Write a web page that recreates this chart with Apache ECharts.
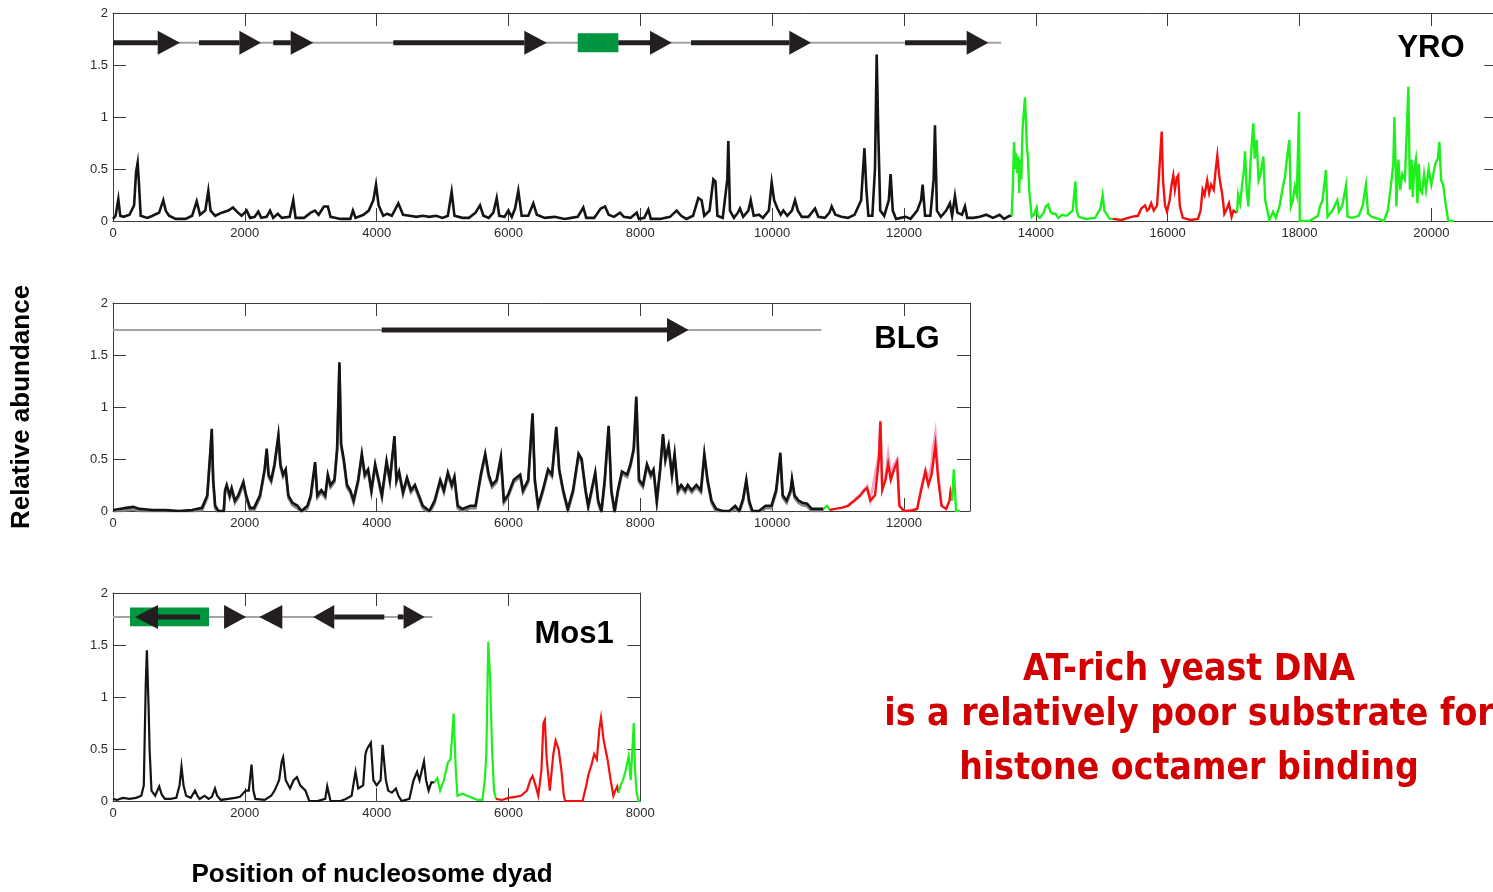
<!DOCTYPE html>
<html><head><meta charset="utf-8">
<script src="https://cdn.jsdelivr.net/npm/echarts@6/dist/echarts.min.js"></script>
<style>html,body{margin:0;padding:0;background:#fff;}#c{width:1493px;height:892px;}</style>
</head><body><div id="c"></div>
<script>
// ---------------- DATA ----------------
const panelNames = ['YRO', 'BLG', 'Mos1'];
const xMaxes = [21000, 13000, 8000];
const xTickStep = 2000;
const yTicks = [0, 0.5, 1, 1.5, 2];

// YRO
const yroBlack = [[0,0.02],[40,0.05],[81,0.21],[110,0.05],[160,0.04],[250,0.06],[320,0.15],[350,0.47],[374,0.56],[395,0.35],[420,0.05],[520,0.03],[600,0.05],[700,0.08],[763,0.2],[800,0.1],[850,0.05],[950,0.02],[1100,0.02],[1200,0.05],[1270,0.19],[1320,0.06],[1400,0.1],[1446,0.29],[1480,0.1],[1550,0.05],[1650,0.08],[1750,0.1],[1820,0.13],[1880,0.09],[1950,0.05],[2028,0.1],[2080,0.03],[2150,0.04],[2204,0.09],[2250,0.03],[2330,0.04],[2382,0.1],[2430,0.03],[2500,0.07],[2560,0.03],[2680,0.04],[2735,0.2],[2770,0.03],[2900,0.03],[3000,0.08],[3064,0.1],[3120,0.06],[3200,0.14],[3260,0.14],[3300,0.04],[3450,0.02],[3600,0.02],[3640,0.1],[3680,0.03],[3800,0.06],[3880,0.1],[3950,0.2],[3990,0.35],[4030,0.15],[4100,0.05],[4160,0.07],[4230,0.05],[4329,0.17],[4400,0.06],[4500,0.05],[4600,0.04],[4700,0.05],[4800,0.04],[4900,0.05],[5000,0.03],[5080,0.05],[5138,0.28],[5180,0.05],[5300,0.03],[5400,0.03],[5500,0.08],[5568,0.15],[5620,0.05],[5700,0.03],[5770,0.08],[5821,0.22],[5860,0.05],[5940,0.04],[5998,0.1],[6050,0.04],[6100,0.12],[6149,0.29],[6200,0.05],[6300,0.05],[6377,0.17],[6430,0.06],[6550,0.03],[6700,0.04],[6850,0.02],[6950,0.03],[7050,0.04],[7135,0.13],[7180,0.03],[7300,0.03],[7400,0.12],[7465,0.14],[7520,0.06],[7600,0.04],[7692,0.08],[7750,0.04],[7850,0.03],[7945,0.08],[7980,0.02],[8060,0.03],[8121,0.11],[8160,0.02],[8300,0.02],[8450,0.04],[8551,0.1],[8620,0.05],[8700,0.02],[8800,0.05],[8880,0.22],[8930,0.2],[8970,0.05],[9050,0.1],[9108,0.4],[9140,0.38],[9170,0.05],[9250,0.03],[9320,0.4],[9335,0.77],[9360,0.1],[9420,0.03],[9480,0.08],[9512,0.12],[9560,0.04],[9640,0.1],[9675,0.2],[9720,0.05],[9800,0.06],[9860,0.03],[9950,0.1],[9993,0.37],[10030,0.2],[10080,0.12],[10130,0.06],[10170,0.1],[10230,0.05],[10300,0.1],[10347,0.2],[10390,0.1],[10450,0.04],[10550,0.04],[10650,0.12],[10700,0.04],[10800,0.03],[10870,0.08],[10903,0.14],[10960,0.06],[11050,0.04],[11150,0.03],[11250,0.06],[11350,0.2],[11400,0.7],[11430,0.3],[11460,0.05],[11520,0.05],[11560,0.5],[11586,1.6],[11610,0.85],[11640,0.1],[11700,0.05],[11770,0.2],[11797,0.45],[11830,0.1],[11880,0.02],[11950,0.03],[12030,0.04],[12100,0.02],[12200,0.1],[12260,0.2],[12283,0.35],[12320,0.05],[12400,0.05],[12450,0.4],[12470,0.92],[12500,0.1],[12560,0.04],[12640,0.1],[12697,0.17],[12730,0.05],[12773,0.24],[12810,0.08],[12880,0.06],[12925,0.14],[12960,0.03],[13050,0.03],[13150,0.04],[13250,0.06],[13350,0.03],[13450,0.06],[13520,0.02],[13600,0.05],[13634,0.05]];
const yroGreenA = [[13634,0.05],[13650,0.3],[13670,0.76],[13690,0.5],[13705,0.65],[13720,0.46],[13735,0.62],[13748,0.27],[13762,0.59],[13780,0.4],[13800,0.9],[13836,1.19],[13850,0.97],[13865,0.7],[13880,0.62],[13900,0.3],[13937,0.04],[13970,0.06],[14013,0.13],[14030,0.05],[14060,0.03],[14120,0.08],[14150,0.14],[14190,0.16],[14220,0.09],[14260,0.07],[14300,0.07],[14340,0.03],[14400,0.06],[14470,0.05],[14560,0.1],[14600,0.38],[14620,0.1],[14650,0.04],[14760,0.02],[14900,0.03],[14980,0.12],[15014,0.25],[15040,0.1],[15070,0.07],[15120,0.02],[15166,0.02]];
const yroRed = [[15166,0.02],[15300,0.01],[15450,0.04],[15550,0.05],[15600,0.12],[15657,0.15],[15690,0.1],[15720,0.12],[15750,0.17],[15790,0.1],[15840,0.15],[15870,0.45],[15910,0.86],[15930,0.39],[15960,0.15],[15990,0.09],[16030,0.2],[16060,0.35],[16086,0.44],[16110,0.3],[16140,0.42],[16160,0.44],[16185,0.14],[16230,0.03],[16350,0.01],[16460,0.02],[16500,0.1],[16530,0.3],[16560,0.25],[16600,0.39],[16630,0.27],[16660,0.35],[16700,0.3],[16730,0.5],[16754,0.63],[16780,0.45],[16800,0.36],[16830,0.25],[16860,0.07],[16900,0.12],[16930,0.17],[16970,0.04],[17000,0.1],[17052,0.08]];
const yroGreenB = [[17052,0.08],[17070,0.25],[17100,0.17],[17130,0.35],[17160,0.5],[17174,0.67],[17200,0.3],[17225,0.14],[17260,0.6],[17300,0.94],[17320,0.6],[17350,0.78],[17380,0.39],[17410,0.45],[17452,0.62],[17480,0.2],[17543,0.01],[17600,0.09],[17640,0.03],[17700,0.15],[17740,0.3],[17781,0.43],[17810,0.6],[17846,0.78],[17870,0.14],[17900,0.2],[17930,0.33],[17960,0.25],[17993,1.05],[18005,0.0],[18150,0.0],[18280,0.05],[18311,0.14],[18350,0.2],[18402,0.49],[18425,0.04],[18500,0.1],[18574,0.2],[18600,0.09],[18650,0.15],[18706,0.34],[18730,0.04],[18800,0.03],[18900,0.05],[18960,0.15],[19009,0.35],[19040,0.07],[19100,0.04],[19200,0.02],[19280,0.0],[19340,0.1],[19380,0.3],[19424,0.55],[19440,1.0],[19460,0.5],[19470,0.14],[19500,0.59],[19530,0.3],[19560,0.45],[19600,0.4],[19630,0.9],[19652,1.29],[19675,0.3],[19700,0.59],[19720,0.23],[19740,0.5],[19765,0.59],[19790,0.17],[19810,0.55],[19830,0.3],[19860,0.27],[19890,0.45],[19920,0.3],[19960,0.5],[20000,0.35],[20060,0.55],[20100,0.6],[20122,0.76],[20150,0.39],[20180,0.35],[20210,0.2],[20257,0.0],[20350,0.0]];

// BLG
const blgBlack = [[0,0.01],[100,0.02],[200,0.03],[309,0.04],[400,0.02],[600,0.01],[800,0.01],[1000,0.0],[1200,0.01],[1350,0.03],[1430,0.15],[1480,0.6],[1498,0.79],[1520,0.3],[1550,0.05],[1600,0.0],[1680,0.0],[1700,0.2],[1725,0.25],[1770,0.15],[1800,0.22],[1850,0.1],[1900,0.15],[1978,0.28],[2020,0.15],[2080,0.03],[2140,0.03],[2230,0.15],[2300,0.4],[2332,0.6],[2360,0.35],[2400,0.3],[2450,0.45],[2509,0.73],[2540,0.45],[2580,0.35],[2620,0.4],[2660,0.15],[2720,0.08],[2800,0.05],[2860,0.0],[2950,0.05],[3000,0.15],[3066,0.47],[3100,0.15],[3160,0.2],[3220,0.15],[3259,0.35],[3300,0.25],[3360,0.3],[3400,0.6],[3435,1.43],[3460,0.65],[3500,0.5],[3550,0.25],[3600,0.2],[3650,0.1],[3720,0.3],[3775,0.55],[3820,0.35],[3870,0.4],[3920,0.2],[3977,0.45],[4030,0.3],[4080,0.15],[4150,0.48],[4200,0.3],[4270,0.72],[4300,0.3],[4340,0.38],[4400,0.18],[4460,0.32],[4520,0.2],[4580,0.25],[4640,0.15],[4700,0.05],[4800,0.0],[4880,0.1],[4964,0.3],[5020,0.2],[5080,0.37],[5140,0.25],[5180,0.33],[5230,0.05],[5300,0.02],[5420,0.05],[5500,0.05],[5580,0.35],[5647,0.55],[5700,0.35],[5750,0.25],[5820,0.3],[5885,0.52],[5930,0.1],[5990,0.15],[6080,0.3],[6178,0.35],[6220,0.2],[6300,0.3],[6365,0.94],[6400,0.3],[6450,0.05],[6520,0.2],[6600,0.4],[6660,0.35],[6725,0.81],[6770,0.4],[6830,0.2],[6900,0.02],[6980,0.2],[7063,0.55],[7110,0.5],[7170,0.2],[7210,0.05],[7260,0.2],[7316,0.37],[7360,0.1],[7410,0.0],[7460,0.3],[7519,0.82],[7560,0.2],[7610,0.0],[7660,0.2],[7721,0.38],[7800,0.35],[7850,0.45],[7900,0.6],[7939,1.1],[7980,0.3],[8040,0.25],[8101,0.45],[8160,0.35],[8200,0.4],[8250,0.1],[8300,0.4],[8344,0.74],[8380,0.5],[8429,0.63],[8480,0.35],[8520,0.55],[8570,0.2],[8620,0.25],[8680,0.2],[8720,0.25],[8780,0.2],[8850,0.25],[8920,0.2],[8971,0.55],[9020,0.3],[9080,0.1],[9150,0.02],[9250,0.0],[9350,0.0],[9440,0.05],[9500,0.0],[9560,0.12],[9608,0.3],[9650,0.1],[9700,0.0],[9800,0.0],[9900,0.05],[9990,0.05],[10060,0.2],[10124,0.56],[10160,0.15],[10220,0.1],[10280,0.2],[10301,0.31],[10340,0.15],[10400,0.1],[10460,0.08],[10530,0.07],[10600,0.02],[10700,0.02],[10780,0.02]];
const blgGreenA = [[10780,0.02],[10833,0.05],[10870,0.01]];
const blgPink = [[11150,0.05],[11339,0.16],[11440,0.24],[11490,0.1],[11620,0.55],[11642,0.87],[11670,0.25],[11720,0.32],[11760,0.55],[11800,0.35],[11850,0.45],[11896,0.5],[11930,0.05],[12000,0.0],[12200,0.02],[12260,0.22],[12325,0.4],[12370,0.3],[12420,0.45],[12440,0.6],[12477,0.75],[12520,0.35],[12570,0.05]];
const blgRed = [[10870,0.01],[10950,0.02],[11050,0.03],[11150,0.05],[11250,0.1],[11339,0.15],[11400,0.2],[11440,0.22],[11490,0.1],[11560,0.15],[11620,0.5],[11642,0.86],[11670,0.2],[11720,0.3],[11760,0.45],[11800,0.3],[11850,0.4],[11896,0.47],[11930,0.05],[12000,0.0],[12100,0.0],[12200,0.02],[12260,0.2],[12325,0.38],[12370,0.25],[12420,0.35],[12477,0.63],[12520,0.3],[12570,0.05],[12640,0.02],[12690,0.1],[12705,0.18],[12730,0.1]];
const blgGreenB = [[12730,0.1],[12756,0.4],[12790,0.0],[12850,0.0]];

// Mos1
const mosBlack = [[0,0.02],[60,0.01],[150,0.03],[250,0.02],[350,0.03],[430,0.05],[467,0.15],[496,1.1],[514,1.45],[540,0.9],[555,0.5],[584,0.1],[640,0.05],[701,0.14],[740,0.06],[788,0.02],[870,0.02],[960,0.03],[1010,0.15],[1039,0.33],[1070,0.15],[1109,0.05],[1180,0.03],[1244,0.1],[1280,0.05],[1314,0.02],[1390,0.05],[1450,0.02],[1500,0.04],[1547,0.12],[1580,0.05],[1635,0.01],[1750,0.02],[1850,0.03],[1927,0.04],[2014,0.1],[2060,0.1],[2102,0.35],[2130,0.1],[2160,0.02],[2300,0.01],[2400,0.05],[2452,0.1],[2520,0.2],[2560,0.38],[2581,0.42],[2620,0.2],[2686,0.12],[2740,0.2],[2791,0.23],[2840,0.15],[2920,0.1],[2978,0.0],[3100,0.0],[3220,0.02],[3250,0.14],[3270,0.14],[3300,0.0],[3450,0.0],[3532,0.02],[3620,0.05],[3679,0.28],[3720,0.12],[3795,0.15],[3830,0.45],[3854,0.5],[3912,0.56],[3950,0.2],[4000,0.15],[4060,0.2],[4090,0.54],[4116,0.55],[4140,0.2],[4175,0.1],[4230,0.08],[4292,0.12],[4330,0.05],[4379,0.0],[4496,0.02],[4560,0.2],[4613,0.28],[4650,0.2],[4718,0.38],[4750,0.2],[4788,0.1],[4830,0.18],[4876,0.18]];
const mosGreenA = [[4876,0.18],[4920,0.22],[4963,0.1],[5020,0.2],[5080,0.37],[5120,0.4],[5168,0.84],[5200,0.3],[5226,0.05],[5300,0.07],[5372,0.05],[5450,0.03],[5530,0.01],[5605,0.01],[5640,0.2],[5664,0.45],[5693,1.53],[5720,1.2],[5751,0.5],[5780,0.1],[5810,0.02]];
const mosRed = [[5810,0.02],[5900,0.01],[6000,0.03],[6100,0.04],[6189,0.05],[6280,0.1],[6330,0.2],[6365,0.24],[6410,0.15],[6452,0.05],[6500,0.3],[6530,0.75],[6551,0.78],[6580,0.4],[6627,0.1],[6680,0.45],[6715,0.58],[6760,0.5],[6802,0.3],[6840,0.05],[6861,0.0],[7000,0.0],[7124,0.0],[7180,0.15],[7211,0.25],[7260,0.35],[7300,0.45],[7340,0.4],[7380,0.7],[7404,0.8],[7440,0.6],[7470,0.5],[7503,0.4],[7550,0.2],[7591,0.05],[7620,0.1],[7649,0.14],[7670,0.08]];
const mosGreenB = [[7670,0.08],[7700,0.15],[7737,0.2],[7780,0.3],[7824,0.43],[7854,0.2],[7880,0.5],[7900,0.75],[7920,0.3],[7941,0.1],[7970,0.0],[8000,0.0]];

// Gene maps: track extent, ORF arrows [lineStart, headBase, tip], green boxes [start, end]
const yroTrack = [0, 13477];
const yroArrows = [[0,678,1016],[1305,1917,2245],[2432,2696,3039],[4253,6240,6580],[7667,8147,8476],[8769,10260,10589],[12016,12951,13280]];
const yroBoxes = [[7050,7667]];
const blgTrack = [0, 10747];
const blgArrows = [[4077,8405,8733]];
const blgBoxes = [];
const mosTrack = [0, 4846];
const mosArrows = [[1320,683,334],[1685,1685,2019],[2569,2569,2219],[4116,3357,3036],[4321,4408,4730]];
const mosBoxes = [[258,1457]];

const yAxisTitle = 'Relative abundance';
const xAxisTitle = 'Position of nucleosome dyad';
const noteLines = ['AT-rich yeast DNA', 'is a relatively poor substrate for', 'histone octamer binding'];

// ---------------- LAYOUT / STYLE ----------------
const pxPerUnit = 0.065915;
const grids = [0,1,2].map(i => ({left:113, top:[13,303,593][i], width: xMaxes[i]*pxPerUnit, height:208, outerBoundsMode:'none', containLabel:false}));
const trackY = [1.714, 1.74, 1.77];
const boxY = [[1.622,1.805],[0,0],[1.68,1.86]];
const C_BLACK = '#141414', C_ARROW = '#231f20', C_TRACK = '#a3a3a3', C_GREEN = '#1df01d', C_RED = '#f21010', C_BOX = '#00963f';
const AX = '#3c3c3c';
const LF = "'Liberation Sans', Arial, sans-serif";

const xAxes = [], yAxes = [];
grids.forEach((g, i) => {
  xAxes.push({gridIndex:i, type:'value', position:'bottom', min:0, max:xMaxes[i], interval:xTickStep,
    axisLine:{show:true, onZero:false, lineStyle:{color:AX, width:1}},
    axisTick:{show:true, inside:true, length:13, lineStyle:{color:AX}},
    axisLabel:{show:true, margin:6, fontSize:13, fontFamily:LF, color:'#2a2a2a', formatter: v => (v % xTickStep === 0 ? String(v) : '')},
    splitLine:{show:false}});
  xAxes.push({gridIndex:i, type:'value', position:'top', min:0, max:xMaxes[i], interval:xTickStep,
    axisLine:{show:true, onZero:false, lineStyle:{color:AX, width:1}},
    axisTick:{show:true, inside:true, length:13, lineStyle:{color:AX}},
    axisLabel:{show:false}, splitLine:{show:false}});
  yAxes.push({gridIndex:i, type:'value', position:'left', min:yTicks[0], max:yTicks[yTicks.length-1], interval:yTicks[1]-yTicks[0],
    axisLine:{show:true, onZero:false, lineStyle:{color:AX, width:1}},
    axisTick:{show:true, inside:true, length:13, lineStyle:{color:AX}},
    axisLabel:{show:true, margin:5, fontSize:13, fontFamily:LF, color:'#2a2a2a'},
    splitLine:{show:false}});
  yAxes.push({gridIndex:i, type:'value', position:'right', min:yTicks[0], max:yTicks[yTicks.length-1], interval:yTicks[1]-yTicks[0],
    axisLine:{show:true, onZero:false, lineStyle:{color:AX, width:1}},
    axisTick:{show:true, inside:true, length:13, lineStyle:{color:AX}},
    axisLabel:{show:false}, splitLine:{show:false}});
});

const series = [];
function trace(i, data, color, width, z, extra) {
  series.push({type:'line', xAxisIndex:2*i, yAxisIndex:2*i, data, showSymbol:false, symbol:'none',
    lineStyle:Object.assign({color, width, join:'miter'}, extra || {}), z: z || 3, silent:true, animation:false});
}
function track(i, ext) {
  series.push({type:'line', xAxisIndex:2*i, yAxisIndex:2*i, data: ext.map(x => [x, trackY[i]]), symbol:'none',
    lineStyle:{color:C_TRACK, width:2}, z:5, silent:true, animation:false});
}
function boxes(i, list) {
  if (!list.length) return;
  series.push({type:'custom', xAxisIndex:2*i, yAxisIndex:2*i, data:list, z:6, silent:true, animation:false,
    renderItem: (params, api) => {
      const a = api.coord([api.value(0), boxY[i][1]]);
      const b = api.coord([api.value(1), boxY[i][0]]);
      return {type:'rect', shape:{x:a[0], y:a[1], width:b[0]-a[0], height:b[1]-a[1]}, style:{fill:C_BOX}};
    }});
}
function arrows(i, list) {
  series.push({type:'custom', xAxisIndex:2*i, yAxisIndex:2*i, data:list, z:7, silent:true, animation:false,
    renderItem: (params, api) => {
      const s = api.coord([api.value(0), trackY[i]]);
      const b = api.coord([api.value(1), trackY[i]]);
      const t = api.coord([api.value(2), trackY[i]]);
      const h = 12;
      const children = [];
      if (Math.abs(b[0]-s[0]) > 0.5) children.push({type:'line', shape:{x1:s[0], y1:s[1], x2:b[0], y2:b[1]}, style:{stroke:C_ARROW, lineWidth:5}});
      children.push({type:'polygon', shape:{points:[[b[0], b[1]-h],[b[0], b[1]+h],[t[0], t[1]]]}, style:{fill:C_ARROW}});
      return {type:'group', children};
    }});
}

// YRO
trace(0, yroBlack, C_BLACK, 2.6); trace(0, yroGreenA, C_GREEN, 2.4); trace(0, yroRed, C_RED, 2.4); trace(0, yroGreenB, C_GREEN, 2.4);
track(0, yroTrack); boxes(0, yroBoxes); arrows(0, yroArrows);
// BLG (black trace carries a grey replicate shadow)
trace(1, blgBlack, C_BLACK, 2.6, 3, {shadowColor:'rgba(120,120,120,0.9)', shadowBlur:0, shadowOffsetY:2.5, shadowOffsetX:0});
trace(1, blgGreenA, C_GREEN, 2.2);
trace(1, blgPink, '#f7a1c6', 2.6, 2); trace(1, blgRed, C_RED, 2.4); trace(1, blgGreenB, C_GREEN, 2.4);
track(1, blgTrack); boxes(1, blgBoxes); arrows(1, blgArrows);
// Mos1
trace(2, mosBlack, C_BLACK, 2.2); trace(2, mosGreenA, C_GREEN, 2.2); trace(2, mosRed, C_RED, 2.2); trace(2, mosGreenB, C_GREEN, 2.2);
track(2, mosTrack); boxes(2, mosBoxes); arrows(2, mosArrows);

// Fit the note font to the reference line width
const NOTE_FAMILY = "'DejaVu Sans Condensed', 'DejaVu Sans', sans-serif";
const ctx = document.createElement('canvas').getContext('2d');
ctx.font = "bold 100px " + NOTE_FAMILY;
const noteSize = Math.round(100 * 603 / ctx.measureText(noteLines[1]).width);

const labelPos = [[1431, 48], [907, 339], [574, 634]];
const graphic = [];
panelNames.forEach((n, i) => graphic.push({type:'text', x:labelPos[i][0], y:labelPos[i][1], z:20,
  style:{text:n, font:"bold 31px " + LF, fill:'#000', textAlign:'center', textVerticalAlign:'middle'}}));
graphic.push({type:'text', x:22, y:407, rotation:Math.PI/2, z:20,
  style:{text:yAxisTitle, font:"bold 26px " + LF, fill:'#000', textAlign:'center', textVerticalAlign:'middle'}});
graphic.push({type:'text', x:372, y:875, z:20,
  style:{text:xAxisTitle, font:"bold 26px " + LF, fill:'#000', textAlign:'center', textVerticalAlign:'middle'}});
const noteY = [670, 715, 769];
noteLines.forEach((t, k) => graphic.push({type:'text', x:1189, y:noteY[k], z:20,
  style:{text:t, font:"bold " + noteSize + "px " + NOTE_FAMILY, fill:'#d20000', textAlign:'center', textVerticalAlign:'middle'}}));

const chart = echarts.init(document.getElementById('c'), null, {renderer:'canvas'});
chart.setOption({animation:false, backgroundColor:'#fff', grid:grids, xAxis:xAxes, yAxis:yAxes, series, graphic});
</script></body></html>
